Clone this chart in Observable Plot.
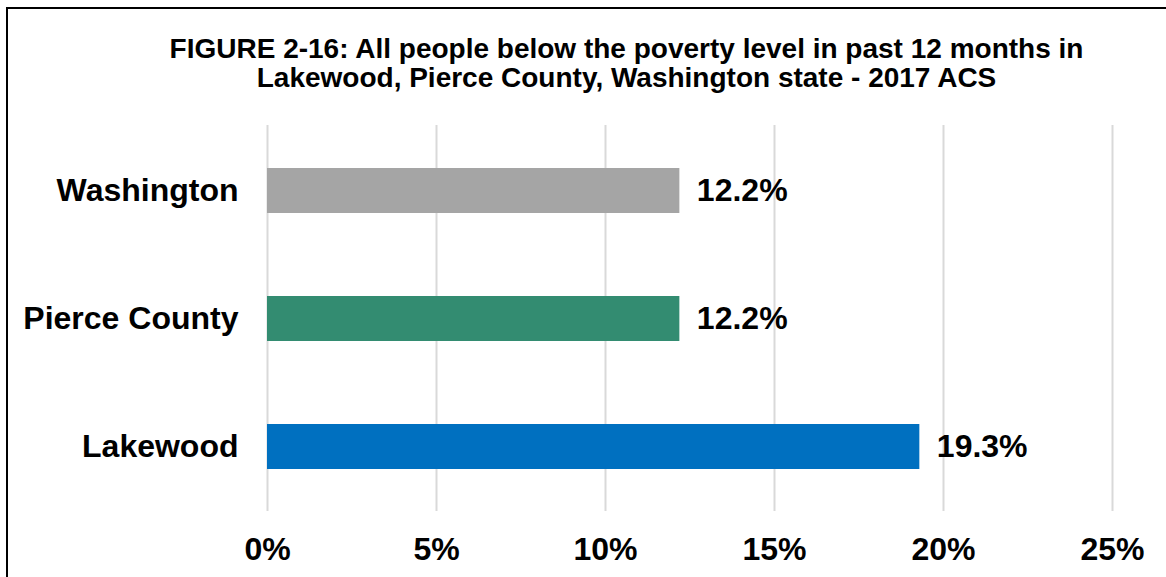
<!DOCTYPE html>
<html>
<head>
<meta charset="utf-8">
<script src="https://cdn.jsdelivr.net/npm/d3@7"></script>
<script src="https://cdn.jsdelivr.net/npm/@observablehq/plot@0.6"></script>
<style>
  html, body { margin: 0; padding: 0; background: #fff; overflow: hidden; }
  body { width: 1166px; height: 577px; position: relative; font-family: "Liberation Sans", Arial, sans-serif; }
  #border { position: absolute; left: 6px; top: 7px; width: 1200px; height: 620px; border: 2px solid #000; box-sizing: border-box; }
  #title { position: absolute; left: 0; top: 34px; width: 1253px; text-align: center; font-weight: bold; font-size: 28px; line-height: 29px; color: #000; white-space: nowrap; }
  #chart { position: absolute; left: 0; top: 100px; }
</style>
</head>
<body>
<div id="border"></div>
<div id="title">FIGURE 2-16: All people below the poverty level in past 12 months in<br>Lakewood, Pierce County, Washington state - 2017 ACS</div>
<div id="chart"></div>
<script>
const categories = ["Washington", "Pierce County", "Lakewood"];
const values = [12.2, 12.2, 19.3];
const colors = ["#A5A5A5", "#338C71", "#0070C0"];
const xTicks = [0, 5, 10, 15, 20, 25];

const data = categories.map((c, i) => ({category: c, value: values[i], color: colors[i]}));

const plot = Plot.plot({
  width: 1166,
  height: 477,
  marginLeft: 267,
  marginRight: 54,
  marginTop: 25,
  marginBottom: 66,
  style: {fontFamily: "'Liberation Sans', Arial, sans-serif", fontSize: "32px", fontWeight: "bold", color: "#000", background: "transparent"},
  x: {domain: [0, 25]},
  y: {domain: categories, paddingInner: 0.65, paddingOuter: 0.325, align: 0.5},
  marks: [
    Plot.gridX(xTicks, {stroke: "#D9D9D9", strokeOpacity: 1, strokeWidth: 2}),
    Plot.barX(data, {y: "category", x: "value", fill: "color"}),
    Plot.text(data, {y: "category", x: "value", text: d => d.value.toFixed(1) + "%", dx: 17, textAnchor: "start", fontSize: 32, fontWeight: "bold", fill: "#000"}),
    Plot.axisX(xTicks, {tickSize: 0, tickPadding: 26, tickFormat: d => d + "%", fontSize: 32, fontWeight: "bold", fill: "#000", label: null}),
    Plot.axisY({tickSize: 0, tickPadding: 29, fontSize: 32, fontWeight: "bold", fill: "#000", label: null})
  ]
});
document.getElementById("chart").appendChild(plot);
</script>
</body>
</html>
